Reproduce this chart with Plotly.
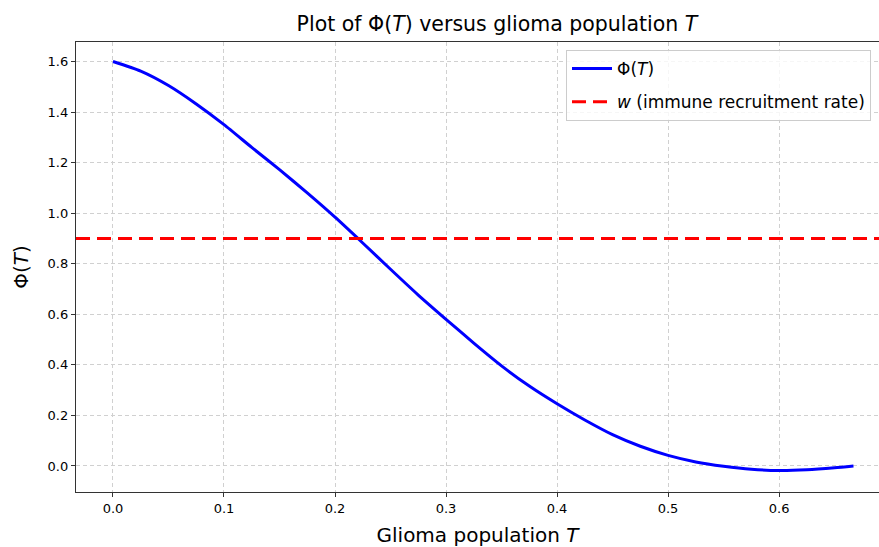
import plotly.graph_objects as go

# Data
T_values = [0.0, 0.025, 0.05, 0.075, 0.1, 0.125, 0.15, 0.175, 0.2, 0.225, 0.25, 0.275,
            0.3, 0.325, 0.35, 0.375, 0.4, 0.425, 0.45, 0.475, 0.5, 0.525, 0.55, 0.575,
            0.6, 0.625, 0.65, 0.667]
phi_values = [1.600, 1.562, 1.505, 1.432, 1.350, 1.260, 1.172, 1.080, 0.984, 0.882, 0.778, 0.676,
              0.580, 0.486, 0.396, 0.316, 0.246, 0.182, 0.124, 0.078, 0.042, 0.016, -0.001, -0.013,
              -0.018, -0.015, -0.007, 0.0]
w_value = 0.9
x_ticks = [0.0, 0.1, 0.2, 0.3, 0.4, 0.5, 0.6]
y_ticks = [0.0, 0.2, 0.4, 0.6, 0.8, 1.0, 1.2, 1.4, 1.6]

FONT = "DejaVu Sans"
W, H = 879, 547

fig = go.Figure()
fig.add_trace(go.Scatter(
    x=T_values, y=phi_values, mode="lines",
    line=dict(color="#0000ff", width=3, shape="spline", smoothing=0.6),
    name="Φ(<i>T</i>)", legendgroup="a",
))
fig.add_shape(
    type="line", xref="x domain", yref="y", x0=0, x1=1, y0=w_value, y1=w_value,
    line=dict(color="#ff0000", width=3, dash="14px,7px"),
    showlegend=True, name="<i>w</i> (immune recruitment rate)", legendgroup="b",
)

grid = dict(showgrid=True, gridcolor="#d0d0d0", griddash="4px,3px", gridwidth=1, zeroline=False)

fig.update_layout(
    width=W, height=H,
    margin=dict(l=76, r=0, t=42, b=55, autoexpand=False),
    paper_bgcolor="white", plot_bgcolor="white",
    font=dict(family=FONT, size=13, color="black"),
    title=dict(text="Plot of Φ(<i>T</i>) versus glioma population <i>T</i>",
               x=497/W, xanchor="center", xref="container",
               y=1 - 24/H, yanchor="middle", yref="container",
               font=dict(family=FONT, size=20.5, color="black")),
    legend=dict(x=(566-76)/803, y=(492-50)/450, xanchor="left", yanchor="top",
                bordercolor="#cccccc", borderwidth=1, bgcolor="rgba(255,255,255,0.8)",
                font=dict(family=FONT, size=17), tracegroupgap=8, itemwidth=40),
    xaxis=dict(
        range=[-0.0333, 0.69], tickvals=x_ticks, ticktext=[f"{v:.1f}" for v in x_ticks],
        showline=True, linecolor="#333333", linewidth=1.3, mirror=True,
        ticks="outside", ticklen=4, tickcolor="#333333", automargin=False,
        title=dict(text="Glioma population <i>T</i>", font=dict(family=FONT, size=20), standoff=15),
        **grid,
    ),
    yaxis=dict(
        range=[-0.103, 1.677], tickvals=y_ticks, ticktext=[f"{v:.1f}" for v in y_ticks],
        showline=True, linecolor="#333333", linewidth=1.3,
        ticks="outside", ticklen=4, tickcolor="#333333", automargin=False,
        title=dict(text="Φ(<i>T</i>)", font=dict(family=FONT, size=20), standoff=13),
        **grid,
    ),
)

fig.write_html(
    "out.html",
    config={"displayModeBar": False},
    post_script="document.body.style.margin='0';document.body.style.overflow='hidden';",
)
